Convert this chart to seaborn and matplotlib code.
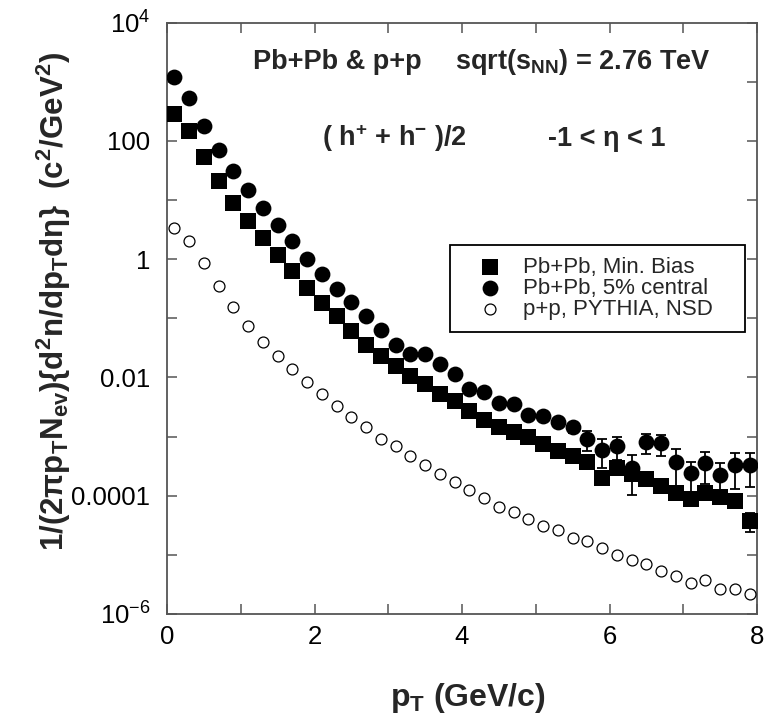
import numpy as np
import pandas as pd
import matplotlib
matplotlib.use("Agg")
import matplotlib.pyplot as plt
import seaborn as sns
from matplotlib.ticker import FixedLocator, FixedFormatter, NullLocator

# ---------------- data ----------------
pt = [0.1, 0.3, 0.5, 0.7, 0.9, 1.1, 1.3, 1.5, 1.7, 1.9,
      2.1, 2.3, 2.5, 2.7, 2.9, 3.1, 3.3, 3.5, 3.7, 3.9,
      4.1, 4.3, 4.5, 4.7, 4.9, 5.1, 5.3, 5.5, 5.7, 5.9,
      6.1, 6.3, 6.5, 6.7, 6.9, 7.1, 7.3, 7.5, 7.7, 7.9]

minbias = [287, 146, 53, 21, 8.8, 4.5, 2.26, 1.18, 0.62, 0.325,
           0.182, 0.108, 0.0604, 0.036, 0.0229, 0.0156, 0.0108, 0.00765, 0.00533, 0.00401,
           0.00272, 0.00192, 0.00143, 0.00120, 0.00097, 0.000748, 0.000577, 0.000475, 0.00037, 0.000198,
           0.000292, 0.000234, 0.000192, 0.000145, 0.000112, 8.9e-5, 0.000112, 9.5e-5, 8.3e-5, 3.8e-5]
minbias_err = [0] * 39 + [1.4e-5]

central = [1186, 534, 182, 69, 30.7, 14.7, 7.4, 3.85, 2.0, 1.0,
           0.56, 0.31, 0.186, 0.11, 0.0645, 0.036, 0.0245, 0.0245, 0.0166, 0.0113,
           0.00648, 0.00568, 0.00376, 0.00352, 0.0023, 0.00224, 0.00177, 0.00143, 0.00091, 0.0006,
           0.0007, 0.000292, 0.000817, 0.000778, 0.000377, 0.00024, 0.000358, 0.000228, 0.000331, 0.000331]
central_err = [0] * 25 + [0.0002, 0.00025, 0.0003, 0.00034, 0.0003,
                          0.0003, 0.00019, 0.0003, 0.0003, 0.00023,
                          0.00013, 0.0002, 0.00013, 0.0002, 0.00019]

pythia = [3.32, 2.06, 0.857, 0.346, 0.155, 0.0754, 0.040, 0.0229, 0.0137, 0.00837,
          0.0052, 0.0033, 0.00216, 0.00146, 0.00091, 0.000684, 0.000475, 0.000331, 0.000234, 0.000173,
          0.000127, 9.1e-5, 6.4e-5, 5.4e-5, 4.1e-5, 3.08e-5, 2.6e-5, 1.9e-5, 1.69e-5, 1.31e-5,
          1.01e-5, 8.1e-6, 6.9e-6, 5.3e-6, 4.4e-6, 3.4e-6, 3.7e-6, 2.6e-6, 2.6e-6, 2.15e-6]

labels = ["Pb+Pb, Min. Bias", "Pb+Pb, 5% central", "p+p, PYTHIA, NSD"]

y_tick_vals = [1e-6, 1e-5, 1e-4, 1e-3, 1e-2, 1e-1, 1, 10, 100, 1000, 1e4]
y_tick_labels = ["$10^{-6}$", "", "0.0001", "", "0.01", "", "1", "", "100", "", "$10^{4}$"]
x_tick_vals = [0, 1, 2, 3, 4, 5, 6, 7, 8]
x_tick_labels = ["0", "", "2", "", "4", "", "6", "", "8"]

# ---------------- style ----------------
sns.set_style("ticks")
plt.rcParams["font.family"] = ["Liberation Sans", "DejaVu Sans"]
plt.rcParams["mathtext.default"] = "regular"

W, H = 766, 717
fig = plt.figure(figsize=(W / 100, H / 100), dpi=100)
L, R, T, B = 167, 757, 22.7, 614
ax = fig.add_axes([L / W, 1 - B / H, (R - L) / W, (B - T) / H])


def fx(x):
    return x / W


def fy(y):
    return 1 - y / H


df = pd.DataFrame({"pt": pt, "minbias": minbias, "central": central, "pythia": pythia})

ax.errorbar(pt, minbias, yerr=minbias_err, fmt="none", ecolor="black",
            elinewidth=1.3, capsize=3.6, capthick=1.3, zorder=1.5)
ax.errorbar(pt, central, yerr=central_err, fmt="none", ecolor="black",
            elinewidth=1.3, capsize=3.6, capthick=1.3, zorder=1.5)

sns.scatterplot(data=df, x="pt", y="minbias", marker="s", s=117, color="black",
                linewidth=0, label=labels[0], ax=ax, zorder=3)
sns.scatterplot(data=df, x="pt", y="central", marker="o", s=130, color="black",
                linewidth=0, label=labels[1], ax=ax, zorder=3)
sns.scatterplot(data=df, x="pt", y="pythia", marker="o", s=62, color="white",
                edgecolor="black", linewidth=0.9, label=labels[2], ax=ax, zorder=3)

ax.set_yscale("log")
ax.set_xlim(0, 8)
ax.set_ylim(1e-6, 1e4)
ax.set_xlabel("")
ax.set_ylabel("")

ax.yaxis.set_major_locator(FixedLocator(y_tick_vals))
ax.yaxis.set_major_formatter(FixedFormatter(y_tick_labels))
ax.yaxis.set_minor_locator(NullLocator())
ax.xaxis.set_major_locator(FixedLocator(x_tick_vals))
ax.xaxis.set_major_formatter(FixedFormatter(x_tick_labels))
ax.xaxis.set_minor_locator(NullLocator())

spine_col = "#555555"
for sp in ax.spines.values():
    sp.set_color(spine_col)
    sp.set_linewidth(1.3)
    sp.set_visible(True)
ax.tick_params(axis="both", which="major", direction="in", top=True, right=True,
               length=7.5, width=1.1, color=spine_col, labelcolor="black", labelsize=18.5)
ax.tick_params(axis="x", pad=8)
ax.tick_params(axis="y", pad=12)

leg_x0 = (450 - L) / (R - L)
leg_w = (745 - 450) / (R - L)
leg_y0 = (B - 337) / (B - T)
leg_h = (337 - 245) / (B - T)
leg = ax.legend(loc="upper left", bbox_to_anchor=(leg_x0, leg_y0, leg_w, leg_h),
                mode="expand", borderaxespad=0, frameon=True, fancybox=False,
                edgecolor="black", framealpha=1, fontsize=16, handlelength=2.5,
                handletextpad=0.23, borderpad=0.55, labelspacing=0.0, scatterpoints=1)
leg.get_frame().set_linewidth(1.3)

# axis labels
fig.text(fx(468), fy(706), "p$_{T}$ (GeV/c)", fontsize=23, fontweight="bold",
         ha="center", va="baseline")
fig.text(fx(54), fy(301),
         "1/(2πp$_{T}$N$_{ev}$){d$^{2}$n/dp$_{T}$dη}  (c$^{2}$/GeV$^{2}$)",
         fontsize=22.5, fontweight="bold", rotation=90, ha="center", va="center")

# annotations
fig.text(fx(253), fy(69), "Pb+Pb & p+p", fontsize=19.5, fontweight="bold",
         ha="left", va="baseline")
fig.text(fx(455), fy(69), "sqrt(s$_{NN}$) = 2.76 TeV", fontsize=19.5, fontweight="bold",
         ha="left", va="baseline")
fig.text(fx(322), fy(146), "( h$^{+}$ + h$^{-}$ )/2", fontsize=19.5, fontweight="bold",
         ha="left", va="baseline")
fig.text(fx(548), fy(146), "-1 < η < 1", fontsize=19.5, fontweight="bold",
         ha="left", va="baseline")

fig.savefig("out.png", dpi=100)
